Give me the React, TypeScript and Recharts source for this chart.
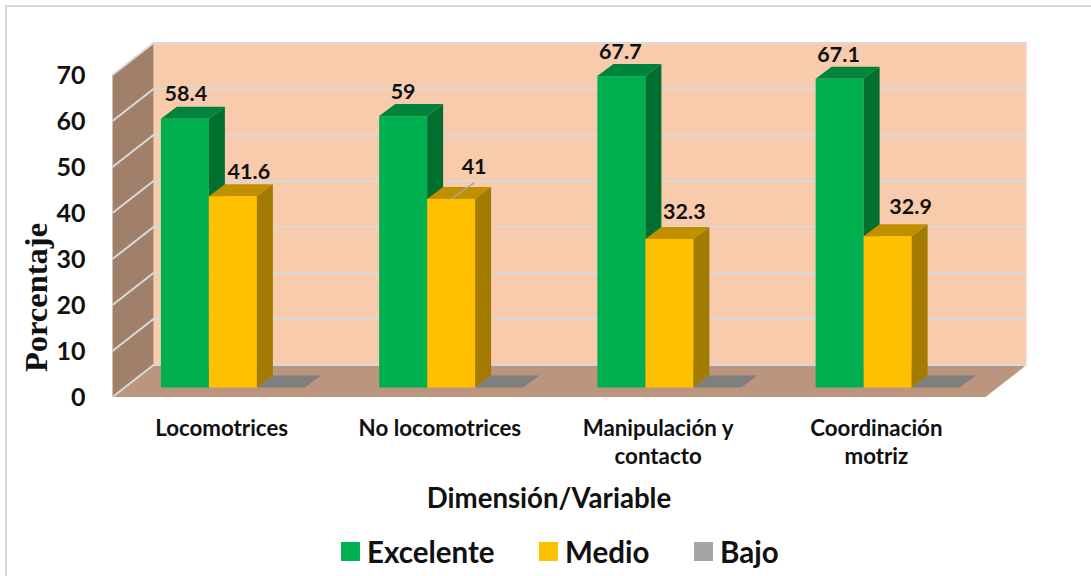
import React from "react";
import { BarChart, Bar, XAxis, YAxis, Legend, LabelList, usePlotArea } from "recharts";

const categories = ["Locomotrices", "No locomotrices", "Manipulación y contacto", "Coordinación motriz"];
const excelente = [58.4, 59, 67.7, 67.1];
const medio = [41.6, 41, 32.3, 32.9];
const bajo = [0, 0, 0, 0];
const yTicks = [0, 10, 20, 30, 40, 50, 60, 70];
const tickLines: Record<string, string[]> = {
  "Manipulación y contacto": ["Manipulación y", "contacto"],
  "Coordinación motriz": ["Coordinación", "motriz"],
};

// manual data label nudges from the source chart, [dx, dy] from the bar's top centre
const excelenteNudge = [[1, -18], [0, -17], [-1, -17], [-1, -17]];
const medioNudge = [[16, -17], [23, -25], [15, -20], [23, -22]];

const data = categories.map((name, i) => ({
  name,
  excelente: excelente[i],
  medio: medio[i],
  bajo: bajo[i],
}));

const FONT = "Lato, sans-serif";
const MAX = 70;
// the bars stand part way into the floor, walls sit in front of and behind that plane
const BAR_DX = 16;
const BAR_DY = -12;
const FRONT = { dx: -12, dy: 9.5 };
const BACK = { dx: 29, dy: -22.5 };

function Walls() {
  const plot = usePlotArea();
  if (!plot) return null;
  const yOf = (v: number) => plot.y + plot.height * (1 - v / MAX);
  const left = plot.x;
  const right = plot.x + plot.width;
  const fx = left + FRONT.dx;
  const bx = left + BACK.dx;
  const rx = right + BACK.dx;
  const frx = right + FRONT.dx;
  const bottom = yOf(0);
  const pts = (p: number[][]) => p.map((q) => q.join(",")).join(" ");
  return (
    <g>
      <polygon
        points={pts([[bx, yOf(MAX) + BACK.dy], [rx, yOf(MAX) + BACK.dy], [rx, bottom + BACK.dy], [bx, bottom + BACK.dy]])}
        fill="#F8CBAD"
      />
      <polygon
        points={pts([[fx, yOf(MAX) + FRONT.dy], [bx, yOf(MAX) + BACK.dy], [bx, bottom + BACK.dy], [fx, bottom + FRONT.dy]])}
        fill="#A1806B"
      />
      <polygon
        points={pts([[fx, bottom + FRONT.dy], [bx, bottom + BACK.dy], [rx, bottom + BACK.dy], [frx, bottom + FRONT.dy]])}
        fill="#BB957E"
      />
      {yTicks.map((t) => (
        <polyline
          key={t}
          points={pts([[fx, yOf(t) + FRONT.dy], [bx, yOf(t) + BACK.dy], [rx, yOf(t) + BACK.dy]])}
          fill="none"
          stroke="#D9D9D9"
          strokeWidth={2}
        />
      ))}
    </g>
  );
}

function box3d(front: string, top: string, side: string) {
  return function Box(props: any) {
    const { x, y, width, height } = props;
    return (
      <g>
        <polygon
          points={`${x},${y} ${x + BAR_DX},${y + BAR_DY} ${x + width + BAR_DX},${y + BAR_DY} ${x + width},${y}`}
          fill={top}
        />
        {height > 0 && (
          <>
            <rect x={x} y={y} width={width} height={height} fill={front} />
            <polygon
              points={`${x + width},${y} ${x + width + BAR_DX},${y + BAR_DY} ${x + width + BAR_DX},${y + height + BAR_DY} ${x + width},${y + height}`}
              fill={side}
            />
          </>
        )}
      </g>
    );
  };
}

function nudgedLabel(nudge: number[][], leaderIndex?: number) {
  return function NudgedLabel(props: any) {
    const { x, y, width, value, index } = props;
    const [dx, dy] = nudge[index];
    const cx = x + width / 2;
    return (
      <g>
        {index === leaderIndex && (
          <line x1={cx} y1={y} x2={cx + dx} y2={y + dy + 9} stroke="#A6A6A6" strokeWidth={1.5} />
        )}
        <text
          x={cx + dx}
          y={y + dy}
          textAnchor="middle"
          fontFamily={FONT}
          fontWeight={700}
          fontSize={21.5}
          fill="#111"
        >
          {value}
        </text>
      </g>
    );
  };
}

function CategoryTick({ x, y, payload }: any) {
  const lines = tickLines[payload.value] || [payload.value];
  return (
    <text textAnchor="middle" fontFamily={FONT} fontWeight={700} fontSize={22.3} fill="#111">
      {lines.map((line, i) => (
        <tspan key={line} x={x + FRONT.dx} y={y + 40 + i * 28}>
          {line}
        </tspan>
      ))}
    </text>
  );
}

function ValueTick({ x, y, payload }: any) {
  return (
    <text x={x - 3} y={y + FRONT.dy + 9} textAnchor="end" fontFamily={FONT} fontWeight={700} fontSize={25} fill="#111">
      {payload.value}
    </text>
  );
}

function LegendRow({ payload }: any) {
  return (
    <div style={{ position: "relative", height: 32, fontFamily: FONT, fontWeight: 700, fontSize: 29.5, color: "#111" }}>
      {(payload || []).map((item: any, i: number) => {
        const lefts = [341, 539, 694];
        return (
          <div key={item.value} style={{ position: "absolute", left: lefts[i], top: 0, display: "flex", alignItems: "center", height: 32 }}>
            <span style={{ width: 19, height: 19, background: item.color, marginRight: 7, flexShrink: 0 }} />
            <span>{item.value}</span>
          </div>
        );
      })}
    </div>
  );
}

export default function App() {
  return (
    <div style={{ position: "absolute", left: 0, top: 0, width: 1091, height: 576, background: "#fff", overflow: "hidden" }}>
      <div
        style={{
          position: "absolute",
          left: 5,
          top: 5,
          width: 1100,
          height: 600,
          border: "2px solid #D9D9D9",
        }}
      />
      <div style={{ position: "absolute", left: 0, top: 0 }}>
        <BarChart
          width={1091}
          height={576}
          data={data}
          margin={{ top: 65.5, right: 93.5, bottom: 56.5, left: 0 }}
          barCategoryGap="16.67%"
          barGap={0}
        >
          <Walls />
          <XAxis
            dataKey="name"
            axisLine={false}
            tickLine={false}
            interval={0}
            height={100}
            tick={<CategoryTick />}
            label={{
              value: "Dimensión/Variable",
              position: "bottom",
              offset: 1,
              dx: -12,
              fontFamily: FONT,
              fontWeight: 700,
              fontSize: 27.6,
              fill: "#111",
            }}
          />
          <YAxis
            domain={[0, MAX]}
            ticks={yTicks}
            width={124.5}
            axisLine={false}
            tickLine={false}
            tickMargin={30}
            tick={<ValueTick />}
            label={{
              value: "Porcentaje",
              angle: -90,
              position: "insideLeft",
              offset: 35,
              dy: 71,
              textAnchor: "middle",
              fontFamily: "'Liberation Serif', serif",
              fontWeight: 700,
              fontSize: 32.5,
              fill: "#111",
            }}
          />
          <Legend content={<LegendRow />} itemSorter={null} wrapperStyle={{ left: 0, bottom: 9, width: 1091 }} />
          <Bar dataKey="excelente" name="Excelente" fill="#00B050" isAnimationActive={false} shape={box3d("#00B050", "#00843C", "#006F2F")}>
            <LabelList dataKey="excelente" content={nudgedLabel(excelenteNudge)} />
          </Bar>
          <Bar dataKey="medio" name="Medio" fill="#FFC000" isAnimationActive={false} shape={box3d("#FFC000", "#C09000", "#A37B00")}>
            <LabelList dataKey="medio" content={nudgedLabel(medioNudge, 1)} />
          </Bar>
          <Bar dataKey="bajo" name="Bajo" fill="#A5A5A5" isAnimationActive={false} shape={box3d("#A5A5A5", "#7F7F7F", "#6E6E6E")} />
        </BarChart>
      </div>
    </div>
  );
}
